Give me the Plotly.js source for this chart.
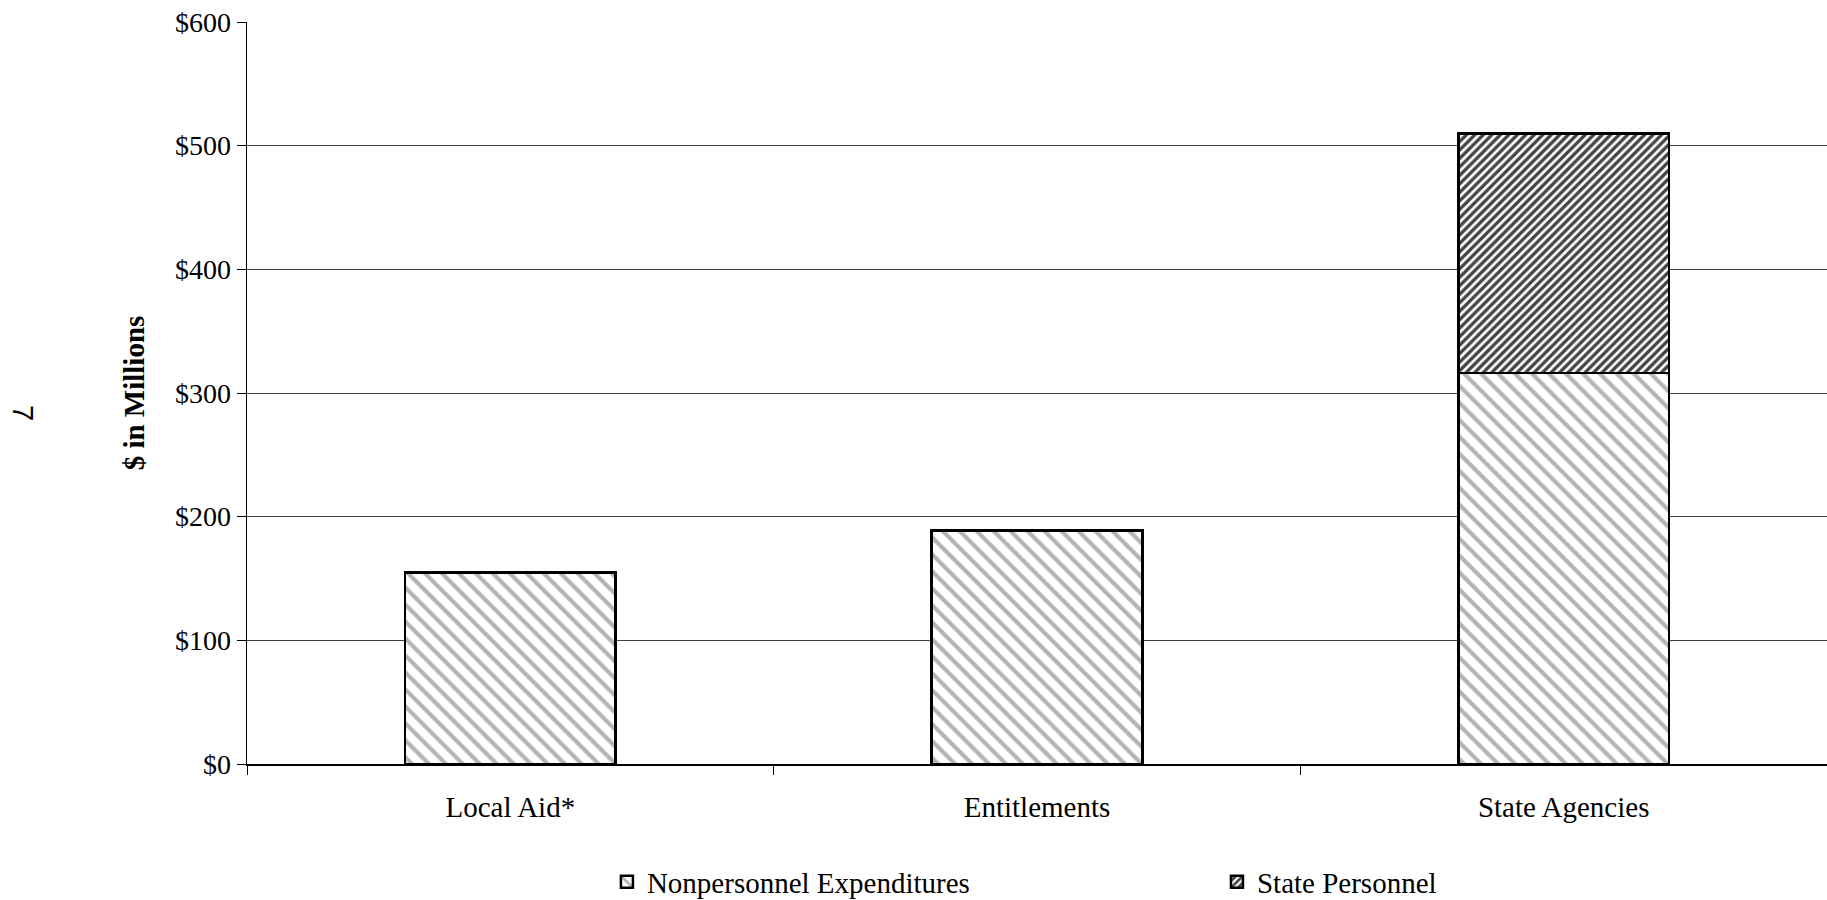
<!DOCTYPE html>
<html>
<head>
<meta charset="utf-8">
<script src="https://cdn.plot.ly/plotly-3.0.1.min.js"></script>
<style>
html,body{margin:0;padding:0;background:#fff;}
#chart{width:1827px;height:900px;}
</style>
</head>
<body>
<div id="chart"></div>
<script>
var categories = ["Local Aid*", "Entitlements", "State Agencies"];
var nonpersonnel = [155, 189, 316];
var statePersonnel = [null, null, 194];
var seriesNames = ["Nonpersonnel Expenditures", "State Personnel"];
var yTickVals = [0, 100, 200, 300, 400, 500, 600];
var yTickText = ["$0", "$100", "$200", "$300", "$400", "$500", "$600"];

var serif = "Liberation Serif, Times New Roman, serif";

var traces = [
  {
    type: "bar",
    name: seriesNames[0],
    x: categories,
    y: nonpersonnel,
    legend: "legend",
    marker: {
      color: "#ffffff",
      line: {color: "#000000", width: 2.5},
      pattern: {shape: "\\", fgcolor: "#b4b4b4", bgcolor: "#ffffff", size: 12, solidity: 0.35}
    },
    hoverinfo: "x+y"
  },
  {
    type: "bar",
    name: seriesNames[1],
    x: categories,
    y: statePersonnel,
    legend: "legend2",
    marker: {
      color: "#ffffff",
      line: {color: "#000000", width: 2.5},
      pattern: {shape: "/", fgcolor: "#444444", bgcolor: "#ffffff", size: 6, solidity: 0.55}
    },
    hoverinfo: "x+y"
  }
];

var legendFont = {family: serif, size: 29, color: "#000000"};

var layout = {
  width: 1827,
  height: 900,
  margin: {l: 247, r: 0, t: 22, b: 136, pad: 0, autoexpand: false},
  paper_bgcolor: "#ffffff",
  plot_bgcolor: "#ffffff",
  barmode: "stack",
  bargap: 0.6,
  font: {family: serif, size: 29, color: "#000000"},
  showlegend: true,
  legend: {
    orientation: "h",
    x: 0.2278,
    xanchor: "left",
    y: -0.159,
    yanchor: "middle",
    font: legendFont,
    bgcolor: "rgba(0,0,0,0)"
  },
  legend2: {
    orientation: "h",
    x: 0.6139,
    xanchor: "left",
    y: -0.159,
    yanchor: "middle",
    font: legendFont,
    bgcolor: "rgba(0,0,0,0)"
  },
  xaxis: {
    type: "category",
    showline: true,
    linecolor: "#000000",
    linewidth: 1.5,
    ticks: "outside",
    tickson: "boundaries",
    ticklen: 9,
    tickcolor: "#000000",
    tickwidth: 1,
    showgrid: false,
    ticklabelstandoff: 17,
    tickfont: {family: serif, size: 29, color: "#000000"}
  },
  yaxis: {
    range: [0, 600],
    tickvals: yTickVals,
    ticktext: yTickText,
    showline: true,
    linecolor: "#000000",
    linewidth: 1.5,
    ticks: "outside",
    ticklen: 9,
    tickcolor: "#000000",
    tickwidth: 1,
    showgrid: true,
    gridcolor: "#404040",
    gridwidth: 1,
    zeroline: false,
    tickfont: {family: serif, size: 28, color: "#000000"},
    title: {
      text: "<b>$ in Millions</b>",
      font: {family: serif, size: 29, color: "#000000"},
      standoff: 22
    }
  },
  annotations: [
    {
      text: "7",
      xref: "paper",
      yref: "paper",
      x: -0.1418,
      y: 0.473,
      xanchor: "center",
      yanchor: "middle",
      textangle: 90,
      showarrow: false,
      font: {family: "Liberation Sans, Arial, sans-serif", size: 29, color: "#000000"}
    }
  ]
};

Plotly.newPlot("chart", traces, layout, {displayModeBar: false, staticPlot: true});
</script>
</body>
</html>
